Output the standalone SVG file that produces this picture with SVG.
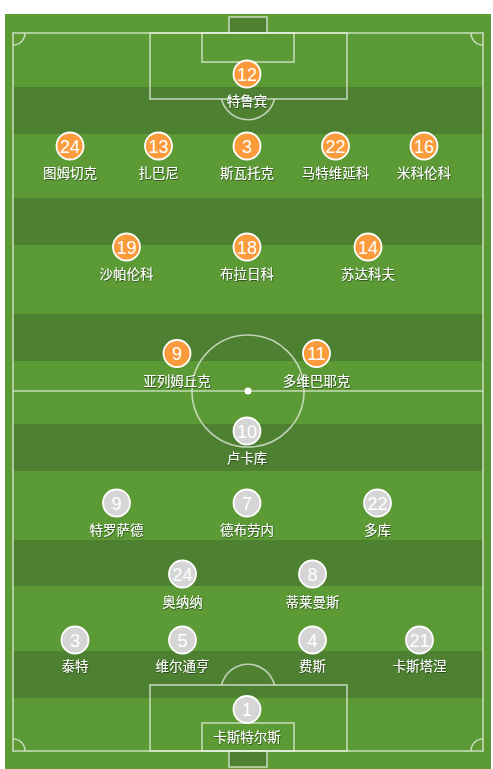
<svg xmlns="http://www.w3.org/2000/svg" width="493" height="769" viewBox="0 0 493 769">
<defs>
<style>
.line{fill:none;stroke:#e6efe0;stroke-opacity:0.75;stroke-width:1.6}
.dark{fill:#4e8032}
.pA circle{fill:#fb9b3b;stroke:#fff;stroke-width:1.8}
.pB circle{fill:#d5d5d5;stroke:#fff;stroke-width:1.8}
.num{font-family:"Liberation Sans","DejaVu Sans",sans-serif;font-size:18px;fill:#fff;text-anchor:middle}
.lbl{font-family:"Noto Sans CJK SC",sans-serif;font-size:13.5px;fill:#fff;text-anchor:middle;filter:url(#sh)}
</style>
<filter id="sh" x="-20%" y="-30%" width="140%" height="160%">
<feDropShadow dx="0.6" dy="0.8" stdDeviation="0.6" flood-color="#1a2e10" flood-opacity="0.8"/>
</filter>
</defs>
<g id="pitch">
<rect x="5" y="14" width="486" height="755" fill="#5c9a36"/>
<rect class="dark" x="13" y="87" width="470" height="47"/>
<rect class="dark" x="13" y="198" width="470" height="47"/>
<rect class="dark" x="13" y="314" width="470" height="47"/>
<rect class="dark" x="13" y="424" width="470" height="47"/>
<rect class="dark" x="13" y="540" width="470" height="46"/>
<rect class="dark" x="13" y="651" width="470" height="47"/>
<rect x="229" y="17" width="38" height="16" class="line" style="fill:#4e8032"/>
<rect x="229" y="751" width="38" height="16" class="line" style="fill:#4e8032"/>
<rect class="line" x="13" y="33" width="470" height="718"/>
<line class="line" x1="13" y1="391" x2="483" y2="391"/>
<circle class="line" cx="248" cy="391" r="56"/>
<circle cx="248" cy="391" r="3.5" fill="#fff"/>
<rect class="line" x="150" y="33" width="197" height="66"/>
<rect class="line" x="202" y="33" width="92" height="29"/>
<path class="line" d="M221.5 99 A27.3 27.3 0 0 0 274.5 99"/>
<rect class="line" x="150" y="685" width="197" height="66"/>
<rect class="line" x="202" y="723" width="92" height="28"/>
<path class="line" d="M221.5 685 A27.3 27.3 0 0 1 274.5 685"/>
<path class="line" d="M13 45 A12 12 0 0 0 25 33"/>
<path class="line" d="M471 33 A12 12 0 0 0 483 45"/>
<path class="line" d="M13 739 A12 12 0 0 1 25 751"/>
<path class="line" d="M471 751 A12 12 0 0 1 483 739"/>
</g>
<g id="connectors"></g>
<g id="home" class="pA">
<g id="a12"><circle cx="247" cy="74" r="13.5"/><text class="num" x="247" y="80.5">12</text><text class="lbl" x="247" y="106">特鲁宾</text></g>
<g id="a24"><circle cx="70" cy="146" r="13.5"/><text class="num" x="70" y="152.5">24</text><text class="lbl" x="70" y="177.5">图姆切克</text></g>
<g id="a13"><circle cx="158.5" cy="146" r="13.5"/><text class="num" x="158.5" y="152.5">13</text><text class="lbl" x="158.5" y="177.5">扎巴尼</text></g>
<g id="a3"><circle cx="247" cy="146" r="13.5"/><text class="num" x="247" y="152.5">3</text><text class="lbl" x="247" y="177.5">斯瓦托克</text></g>
<g id="a22"><circle cx="335.5" cy="146" r="13.5"/><text class="num" x="335.5" y="152.5">22</text><text class="lbl" x="335.5" y="177.5">马特维延科</text></g>
<g id="a16"><circle cx="424" cy="146" r="13.5"/><text class="num" x="424" y="152.5">16</text><text class="lbl" x="424" y="177.5">米科伦科</text></g>
<g id="a19"><circle cx="126.5" cy="247" r="13.5"/><text class="num" x="126.5" y="253.5">19</text><text class="lbl" x="126.5" y="279">沙帕伦科</text></g>
<g id="a18"><circle cx="247" cy="247" r="13.5"/><text class="num" x="247" y="253.5">18</text><text class="lbl" x="247" y="279">布拉日科</text></g>
<g id="a14"><circle cx="368" cy="247" r="13.5"/><text class="num" x="368" y="253.5">14</text><text class="lbl" x="368" y="279">苏达科夫</text></g>
<g id="a9"><circle cx="177" cy="353.5" r="13.5"/><text class="num" x="177" y="360">9</text><text class="lbl" x="177" y="385.5">亚列姆丘克</text></g>
<g id="a11"><circle cx="316.5" cy="353.5" r="13.5"/><text class="num" x="316.5" y="360">11</text><text class="lbl" x="316.5" y="385.5">多维巴耶克</text></g>
</g>
<g id="away" class="pB">
<g id="b10"><circle cx="247" cy="431" r="13.5"/><text class="num" x="247" y="437.5">10</text><text class="lbl" x="247" y="463">卢卡库</text></g>
<g id="b9"><circle cx="116.5" cy="503" r="13.5"/><text class="num" x="116.5" y="509.5">9</text><text class="lbl" x="116.5" y="534.5">特罗萨德</text></g>
<g id="b7"><circle cx="247" cy="503" r="13.5"/><text class="num" x="247" y="509.5">7</text><text class="lbl" x="247" y="534.5">德布劳内</text></g>
<g id="b22"><circle cx="377.5" cy="503" r="13.5"/><text class="num" x="377.5" y="509.5">22</text><text class="lbl" x="377.5" y="534.5">多库</text></g>
<g id="b24"><circle cx="182.5" cy="574" r="13.5"/><text class="num" x="182.5" y="580.5">24</text><text class="lbl" x="182.5" y="606.5">奥纳纳</text></g>
<g id="b8"><circle cx="312.5" cy="574" r="13.5"/><text class="num" x="312.5" y="580.5">8</text><text class="lbl" x="312.5" y="606.5">蒂莱曼斯</text></g>
<g id="b3"><circle cx="75" cy="640" r="13.5"/><text class="num" x="75" y="646.5">3</text><text class="lbl" x="75" y="670.5">泰特</text></g>
<g id="b5"><circle cx="182.5" cy="640" r="13.5"/><text class="num" x="182.5" y="646.5">5</text><text class="lbl" x="182.5" y="670.5">维尔通亨</text></g>
<g id="b4"><circle cx="312.5" cy="640" r="13.5"/><text class="num" x="312.5" y="646.5">4</text><text class="lbl" x="312.5" y="670.5">费斯</text></g>
<g id="b21"><circle cx="419.5" cy="640" r="13.5"/><text class="num" x="419.5" y="646.5">21</text><text class="lbl" x="419.5" y="670.5">卡斯塔涅</text></g>
<g id="b1"><circle cx="247" cy="709.5" r="13.5"/><text class="num" x="247" y="716">1</text><text class="lbl" x="247" y="741.5">卡斯特尔斯</text></g>
</g>
</svg>
